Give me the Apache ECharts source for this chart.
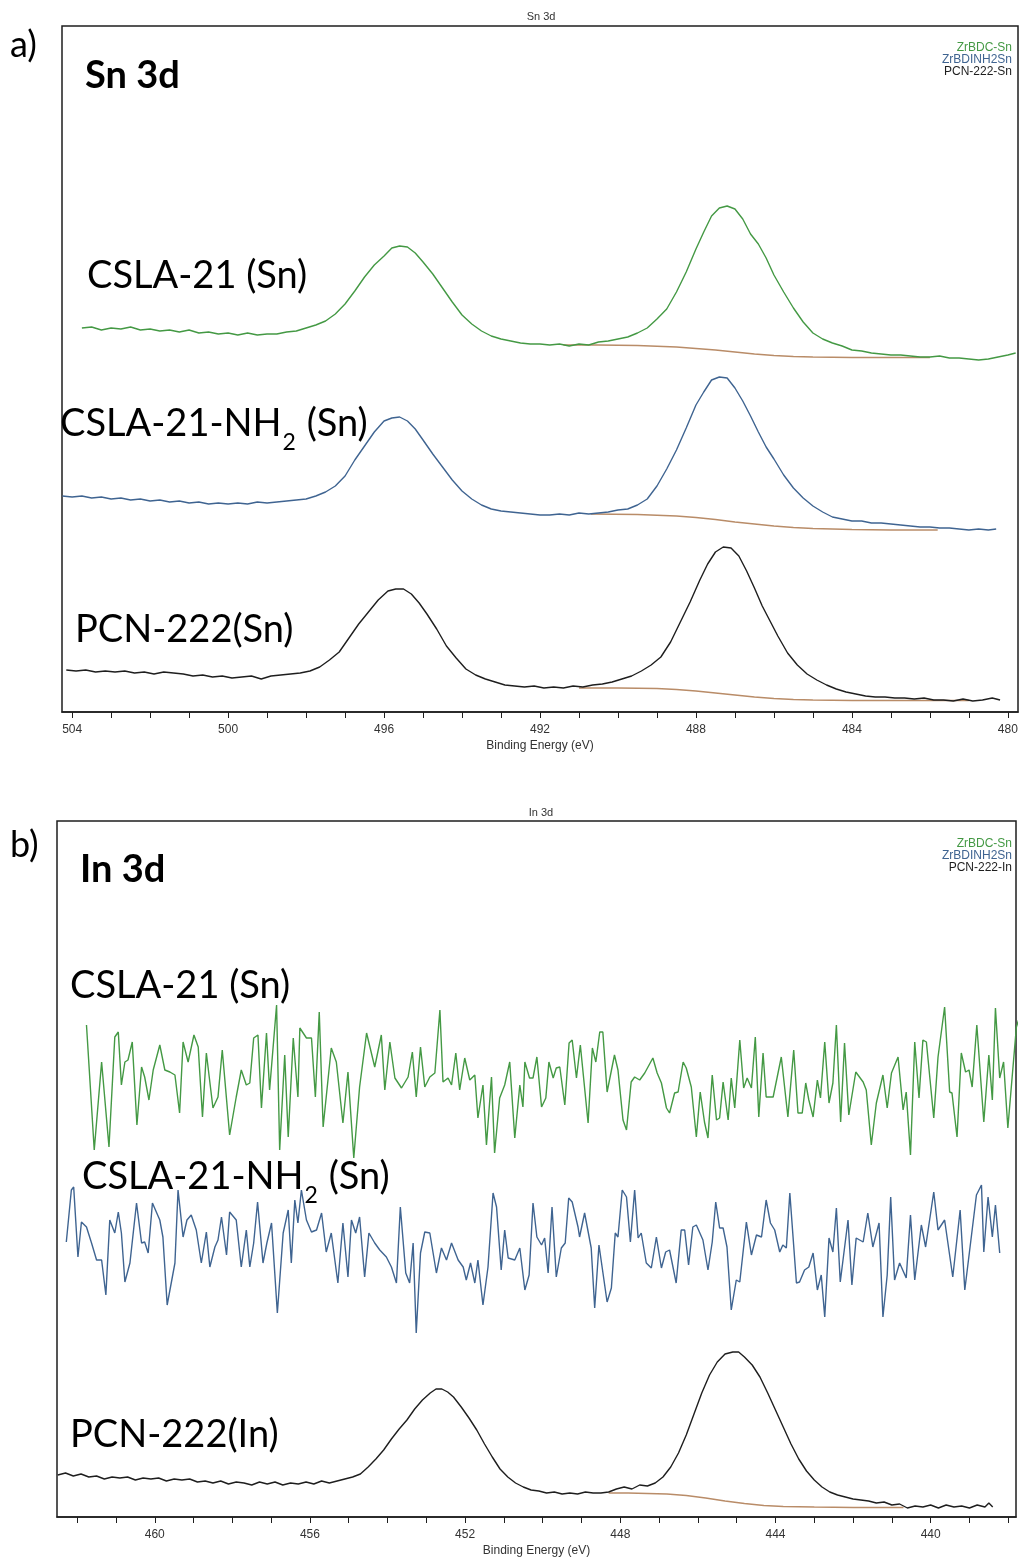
<!DOCTYPE html>
<html>
<head>
<meta charset="utf-8">
<title>Sn 3d / In 3d XPS</title>
<script src="https://cdn.jsdelivr.net/npm/echarts@6/dist/echarts.min.js"></script>
<style>
  html, body { margin: 0; padding: 0; background: #fff; }
  #main { width: 1023px; height: 1560px; }
</style>
</head>
<body>
<div id="main"></div>
<script>
// ---- data: [binding energy (eV), intensity (a.u.)] ----

// panel a) Sn 3d
const snGreen = [[503.75,384],[503.5,385],[503.25,382],[503.0,384],[502.75,383],[502.5,385],[502.25,382],[502.0,383],[501.75,381],[501.5,382],[501.25,380],[501.0,382],[500.75,379],[500.5,380],[500.25,378],[500.0,379],[499.75,377],[499.5,379],[499.25,377],[499.0,378],[498.75,378],[498.5,380],[498.25,381],[498.0,384],[497.75,387],[497.5,391],[497.25,398],[497.0,408],[496.75,421],[496.5,435],[496.25,447],[496.0,456],[495.8,464],[495.6,466],[495.4,465],[495.2,459],[495.0,450],[494.75,438],[494.5,424],[494.25,410],[494.0,397],[493.75,388],[493.5,381],[493.25,376],[493.0,373],[492.75,371],[492.5,369],[492.25,368],[492.0,368],[491.75,367],[491.5,368],[491.25,366],[491.0,368],[490.75,367],[490.5,370],[490.25,371],[490.0,373],[489.75,375],[489.5,379],[489.25,384],[489.0,393],[488.75,403],[488.5,420],[488.25,440],[488.0,463],[487.8,480],[487.6,496],[487.4,504],[487.2,506],[487.0,503],[486.8,493],[486.6,478],[486.4,468],[486.2,454],[486.0,437],[485.75,420],[485.5,404],[485.25,390],[485.0,379],[484.75,373],[484.5,369],[484.25,366],[484.0,362],[483.75,361],[483.5,359],[483.25,358],[483.0,357],[482.75,357],[482.5,356],[482.25,355],[482.0,355],[481.75,356],[481.5,354],[481.25,354],[481.0,353],[480.75,352],[480.5,353],[480.25,355],[480.0,357],[479.8,359]];

const snBlue = [[504.25,216],[504.0,215],[503.75,216],[503.5,214],[503.25,215],[503.0,213],[502.75,214],[502.5,212],[502.25,213],[502.0,211],[501.75,212],[501.5,210],[501.25,211],[501.0,209],[500.75,210],[500.5,208],[500.25,209],[500.0,208],[499.75,209],[499.5,208],[499.25,210],[499.0,209],[498.75,210],[498.5,211],[498.25,212],[498.0,213],[497.75,216],[497.5,220],[497.25,226],[497.0,236],[496.75,252],[496.5,266],[496.25,280],[496.0,291],[495.8,294],[495.6,295],[495.4,291],[495.2,283],[495.0,272],[494.75,258],[494.5,245],[494.25,232],[494.0,221],[493.75,213],[493.5,207],[493.25,203],[493.0,201],[492.75,200],[492.5,199],[492.25,198],[492.0,197],[491.75,197],[491.5,198],[491.25,197],[491.0,199],[490.75,198],[490.5,199],[490.25,200],[490.0,202],[489.75,203],[489.5,207],[489.25,213],[489.0,226],[488.75,243],[488.5,262],[488.25,284],[488.0,307],[487.8,320],[487.6,332],[487.4,335],[487.2,334],[487.0,324],[486.8,311],[486.6,296],[486.4,280],[486.2,265],[486.0,253],[485.75,237],[485.5,224],[485.25,214],[485.0,206],[484.75,200],[484.5,195],[484.25,193],[484.0,191],[483.75,191],[483.5,189],[483.25,189],[483.0,188],[482.75,187],[482.5,186],[482.25,185],[482.0,185],[481.75,184],[481.5,184],[481.25,183],[481.0,182],[480.75,183],[480.5,182],[480.3,183]];

const snBlack = [[504.15,42],[503.9,41],[503.65,42],[503.4,40],[503.15,41],[502.9,40],[502.65,41],[502.4,39],[502.15,40],[501.9,38],[501.65,40],[501.4,39],[501.15,38],[500.9,36],[500.65,37],[500.4,35],[500.15,36],[499.9,34],[499.65,35],[499.4,36],[499.15,33],[498.9,36],[498.65,37],[498.4,38],[498.15,39],[497.9,41],[497.65,45],[497.4,52],[497.15,60],[496.9,74],[496.65,88],[496.4,100],[496.15,112],[495.9,121],[495.7,123],[495.5,123],[495.3,118],[495.1,109],[494.9,98],[494.65,83],[494.4,66],[494.15,54],[493.9,43],[493.65,37],[493.4,33],[493.15,30],[492.9,27],[492.65,26],[492.4,25],[492.15,26],[491.9,24],[491.65,25],[491.4,24],[491.15,26],[490.9,25],[490.65,27],[490.4,28],[490.15,30],[489.9,33],[489.65,36],[489.4,41],[489.15,47],[488.9,55],[488.65,70],[488.4,90],[488.15,110],[487.9,132],[487.7,148],[487.5,160],[487.3,165],[487.1,164],[486.9,156],[486.7,141],[486.5,124],[486.3,106],[486.1,91],[485.9,76],[485.65,59],[485.4,47],[485.15,38],[484.9,32],[484.65,27],[484.4,23],[484.15,20],[483.9,18],[483.65,16],[483.4,15],[483.15,15],[482.9,14],[482.65,14],[482.4,13],[482.15,14],[481.9,12],[481.65,12],[481.4,11],[481.15,13],[480.9,11],[480.65,12],[480.4,14],[480.2,12]];

// Shirley backgrounds under the Sn 3d5/2 peaks
const snGreenBg = [[491.4,367],[490.5,367],[489.5,366.5],[488.5,365],[488.0,363.5],[487.5,362],[487.0,360],[486.5,358],[486.0,356.5],[485.5,355.5],[485.0,355],[484.0,354.5],[483.0,354.5],[482.0,354.5]];
const snBlueBg = [[490.7,198],[489.5,197.5],[488.5,196],[488.0,194.5],[487.5,192.5],[487.0,190],[486.5,188],[486.0,186],[485.5,184.5],[485.0,183.5],[484.0,182.5],[483.0,182],[482.0,182],[481.8,182]];
const snBlackBg = [[491.0,24],[490.0,24],[489.0,23.5],[488.5,22.5],[488.0,21],[487.5,19],[487.0,17],[486.5,15],[486.0,13.5],[485.5,12.5],[485.0,12],[484.0,11.5],[483.0,11.5],[482.0,11.5],[481.0,11.5]];

// panel b) In 3d
const inGreen = [[461.76,492],[461.56,367],[461.37,455],[461.18,370],[461.03,480],[460.94,485],[460.86,432],[460.77,455],[460.69,457],[460.58,475],[460.46,392],[460.34,450],[460.26,440],[460.15,417],[460.04,447],[459.87,472],[459.74,447],[459.61,445],[459.48,442],[459.36,404],[459.27,475],[459.14,455],[458.99,482],[458.88,470],[458.77,400],[458.67,464],[458.50,409],[458.37,420],[458.26,467],[458.07,382],[457.90,420],[457.77,447],[457.64,432],[457.55,434],[457.45,479],[457.34,482],[457.25,409],[457.12,484],[457.04,427],[456.86,512],[456.78,367],[456.65,462],[456.56,380],[456.43,479],[456.31,420],[456.26,489],[456.09,479],[455.96,479],[455.86,420],[455.76,505],[455.66,390],[455.45,469],[455.32,455],[455.15,394],[455.02,445],[454.87,359],[454.72,430],[454.54,484],[454.33,450],[454.16,482],[454.07,427],[453.94,475],[453.81,439],[453.64,429],[453.47,440],[453.36,465],[453.26,420],[453.15,470],[453.04,430],[452.91,440],[452.78,444],[452.65,507],[452.57,435],[452.44,439],[452.35,432],[452.24,464],[452.14,427],[452.01,459],[451.88,437],[451.75,442],[451.67,399],[451.54,432],[451.45,372],[451.32,440],[451.24,364],[451.11,419],[450.98,432],[450.85,455],[450.72,379],[450.59,432],[450.51,410],
  [450.46,455],[450.34,439],[450.25,439],[450.15,460],[450.03,410],[449.92,419],[449.84,455],[449.73,439],[449.65,449],[449.56,450],[449.43,412],[449.32,474],[449.24,477],[449.13,439],[449.03,472],[448.83,394],[448.72,469],[448.63,455],[448.53,485],[448.45,485],[448.34,425],[448.15,462],[448.06,447],[447.93,397],[447.84,387],[447.72,435],[447.63,440],[447.50,437],[447.37,444],[447.16,459],[447.05,444],[446.94,434],[446.81,409],[446.73,404],[446.60,424],[446.51,425],[446.38,455],[446.30,449],[446.17,430],[446.04,380],[445.94,425],[445.83,395],[445.74,379],[445.63,442],[445.52,397],[445.44,399],[445.35,435],[445.22,397],[445.14,439],[445.05,409],[444.92,477],[444.82,429],[444.73,439],[444.62,429],[444.52,480],[444.43,400],[444.32,464],[444.24,420],[444.06,420],[443.85,460],[443.68,400],[443.53,467],[443.42,404],[443.31,404],[443.22,434],[443.14,417],[443.03,400],[442.92,437],[442.84,419],[442.73,475],[442.62,414],[442.52,434],[442.43,492],[442.32,395],[442.22,474],[442.11,402],[441.93,445],[441.74,435],[441.66,427],[441.53,372],[441.40,414],[441.23,442],[441.12,409],[441.01,444],[440.84,460],[440.71,407],[440.63,425],[440.52,362],[440.41,475],[440.30,419],[440.20,477],[440.11,475],[439.92,399],[439.81,460],[439.64,510],[439.51,425],[439.45,424],[439.32,380],[439.21,464],[439.10,445],[439.01,447],[438.93,430],[438.81,492],[438.63,395],[438.50,462],[438.41,417],[438.33,509],[438.22,439],[438.12,455],[438.01,389],[437.79,490],[437.71,500]];

const inBlue = [[462.28,275],[462.15,327],[462.09,330],[461.98,260],[461.89,295],[461.76,290],[461.63,274],[461.50,257],[461.37,257],[461.26,222],[461.16,297],[461.03,284],[460.94,305],[460.86,284],[460.77,235],[460.64,254],[460.47,314],[460.34,274],[460.26,275],[460.17,264],[460.06,314],[459.96,305],[459.87,297],[459.79,280],[459.68,212],[459.48,254],[459.40,327],[459.27,280],[459.17,297],[459.06,302],[458.93,287],[458.80,254],[458.67,285],[458.58,250],[458.45,270],[458.37,277],[458.28,300],[458.15,262],[458.07,305],[457.90,297],[457.77,250],[457.64,287],[457.55,250],[457.45,274],[457.35,315],[457.21,254],[457.11,274],[456.99,294],[456.84,204],[456.69,284],[456.56,307],[456.48,254],[456.39,317],[456.31,294],[456.22,327],[456.09,297],[455.96,285],[455.83,287],[455.70,304],[455.58,265],[455.45,284],[455.28,234],[455.15,294],[455.02,240],[454.93,297],[454.82,284],[454.72,300],[454.59,240],[454.48,284],[454.33,274],[454.20,267],[454.03,260],[453.90,250],[453.77,234],[453.67,310],[453.53,244],[453.43,234],[453.34,274],[453.26,184],[453.15,264],[453.04,285],[452.91,284],[452.74,244],[452.61,269],[452.48,257],[452.35,274],[452.18,257],[452.05,250],[451.97,237],[451.86,254],[451.75,234],[451.67,257],[451.54,212],[451.41,250],[451.28,324],[451.19,310],[451.07,247],[450.98,287],[450.89,259],[450.72,257],[450.59,269],
  [450.46,227],[450.35,242],[450.25,314],[450.15,280],[450.03,272],[449.95,279],[449.86,244],[449.76,310],[449.65,240],[449.52,269],[449.42,274],[449.33,319],[449.24,315],[449.09,290],[449.05,280],[448.92,304],[448.75,269],[448.66,209],[448.55,272],[448.34,215],[448.23,229],[448.13,284],[448.06,280],[447.95,327],[447.84,320],[447.74,275],[447.63,327],[447.54,279],[447.46,284],[447.33,254],[447.20,249],[447.07,280],[446.94,249],[446.83,265],[446.73,267],[446.56,234],[446.43,287],[446.34,287],[446.24,252],[446.13,290],[446.04,292],[445.87,277],[445.74,247],[445.63,275],[445.54,315],[445.44,289],[445.35,289],[445.25,270],[445.14,207],[445.01,237],[444.92,235],[444.75,295],[444.62,262],[444.49,282],[444.36,280],[444.24,317],[444.13,294],[444.02,287],[443.89,265],[443.81,272],[443.72,269],[443.63,324],[443.46,234],[443.38,235],[443.25,247],[443.14,250],[443.03,264],[442.92,227],[442.82,242],[442.73,200],[442.62,279],[442.52,265],[442.43,309],[442.33,235],[442.13,297],[442.03,232],[441.92,279],[441.74,275],[441.62,304],[441.49,270],[441.33,294],[441.23,200],[441.12,242],[441.03,320],[440.93,237],[440.80,254],[440.63,239],[440.52,302],[440.41,237],[440.24,292],[440.13,270],[439.92,325],[439.81,287],[439.64,297],[439.43,240],[439.24,307],[439.12,227],[438.82,322],[438.69,332],[438.63,265],[438.52,320],[438.41,280],[438.33,312],[438.22,264]];

const inBlack = [[462.5,42],[462.3,44],[462.1,41],[461.9,43],[461.7,40],[461.5,41],[461.3,38],[461.1,40],[460.9,39],[460.7,40],[460.5,37],[460.3,39],[460.1,38],[459.9,39],[459.7,36],[459.5,38],[459.3,37],[459.1,38],[458.9,35],[458.7,36],[458.5,34],[458.3,36],[458.1,33],[457.9,35],[457.7,34],[457.5,32],[457.3,35],[457.1,33],[456.9,35],[456.7,32],[456.5,34],[456.3,33],[456.1,35],[455.9,33],[455.7,36],[455.5,34],[455.3,36],[455.1,38],[454.9,40],[454.7,43],[454.5,50],[454.3,58],[454.1,67],[453.9,78],[453.7,88],[453.5,97],[453.3,108],[453.1,117],[452.9,124],[452.75,128],[452.6,128],[452.45,125],[452.3,120],[452.1,110],[451.9,99],[451.7,87],[451.5,73],[451.3,60],[451.1,48],[450.9,40],[450.7,34],[450.5,30],[450.3,27],[450.1,26],[449.9,24],[449.7,25],[449.5,23],[449.3,24],[449.1,23],[448.9,25],[448.7,24],[448.5,24],[448.3,25],[448.1,28],[447.9,30],[447.7,28],[447.5,32],[447.3,31],[447.1,34],[446.9,40],[446.7,50],[446.5,64],[446.3,82],[446.1,103],[445.9,124],[445.7,142],[445.5,155],[445.3,163],[445.1,165],[444.95,165],[444.8,160],[444.6,152],[444.4,140],[444.2,124],[444.0,107],[443.8,90],[443.6,73],[443.4,58],[443.2,46],[443.0,37],[442.8,30],[442.6,25],[442.4,22],[442.2,20],[442.0,18],[441.8,17],[441.6,16],[441.4,14],[441.2,15],[441.0,12],[440.8,13],[440.6,9],[440.4,11],[440.2,10],[440.0,12],[439.8,9],[439.6,12],[439.4,10],[439.2,11],[439.0,9],[438.8,12],[438.6,10],[438.5,14],[438.4,10]];

const inBlackBg = [[448.3,24],[447.8,24],[447.3,23.5],[446.8,23],[446.3,21.5],[445.8,19],[445.3,16],[444.8,13.5],[444.3,11.5],[443.8,10.5],[443.0,10],[442.0,9.5],[440.7,9.5]];

// axis ticks and labels
const snTicks = [480,481,482,483,484,485,486,487,488,489,490,491,492,493,494,495,496,497,498,499,500,501,502,503,504];
const snLabels = [480, 484, 488, 492, 496, 500, 504];
const inTicks = [438,439,440,441,442,443,444,445,446,447,448,449,450,451,452,453,454,455,456,457,458,459,460,461,462];
const inLabels = [440, 444, 448, 452, 456, 460];

// ---- styling ----
const GREEN = '#449944';
const BLUE = '#3f6491';
const BLACK = '#1e1e1e';
const BROWN = '#b98c68';
const NARROW = "'Liberation Sans Narrow', 'Liberation Sans', Arial, sans-serif";
const BIG = "Lato, 'Open Sans', sans-serif";
const LABEL_SIZE = 38;

const chart = echarts.init(document.getElementById('main'));

function xAxisFor(gridIndex, min, max, ticks, labels) {
  return {
    type: 'value', gridIndex: gridIndex, inverse: true, min: min, max: max,
    name: 'Binding Energy (eV)', nameLocation: 'middle', nameGap: 28,
    nameTextStyle: { fontFamily: NARROW, fontSize: 12, color: '#333' },
    axisLine: { show: true, lineStyle: { color: BLACK, width: 1.5 } },
    axisTick: { show: true, length: 6, customValues: ticks, lineStyle: { color: BLACK } },
    axisLabel: { customValues: labels, margin: 12, fontFamily: NARROW, fontSize: 12, color: '#333' },
    splitLine: { show: false }
  };
}

function yAxisFor(gridIndex, max) {
  return { type: 'value', gridIndex: gridIndex, min: 0, max: max, show: false };
}

function line(name, data, color, axis, width) {
  return {
    type: 'line', name: name, data: data, xAxisIndex: axis, yAxisIndex: axis,
    showSymbol: false, symbol: 'none', silent: true,
    lineStyle: { color: color, width: width || 1.4 }, itemStyle: { color: color }
  };
}

function legendFor(top, third) {
  return {
    orient: 'vertical', right: 6, top: top, align: 'right', icon: 'none',
    itemWidth: 0, itemHeight: 10, itemGap: 0, selectedMode: false, padding: 0,
    textStyle: { fontFamily: NARROW, fontSize: 12, lineHeight: 12 },
    data: [
      { name: 'ZrBDC-Sn', textStyle: { color: GREEN } },
      { name: 'ZrBDINH2Sn', textStyle: { color: BLUE } },
      { name: third, textStyle: { color: BLACK } }
    ]
  };
}

// text with a subscript, e.g. CSLA-21-NH2 (Sn)
const measureCtx = document.createElement('canvas').getContext('2d');
function textWidth(str, size) {
  measureCtx.font = size + 'px ' + BIG;
  return measureCtx.measureText(str).width;
}
function bigText(str, x, y, size, weight) {
  return {
    type: 'text', x: x, y: y, z: 100,
    style: { text: str, fontFamily: BIG, fontSize: size, fontWeight: weight || 'normal', fill: '#000', verticalAlign: 'middle' }
  };
}
function subLabel(head, sub, tail, x, y) {
  const w1 = textWidth(head, LABEL_SIZE);
  const w2 = textWidth(sub, 23);
  return [
    bigText(head, x, y, LABEL_SIZE),
    bigText(sub, x + w1 + 1, y + 19, 23),
    bigText(tail, x + w1 + w2 + 2, y, LABEL_SIZE)
  ];
}
function smallTitle(str, y) {
  return {
    type: 'text', x: 541, y: y, z: 100,
    style: { text: str, fontFamily: NARROW, fontSize: 11, fill: '#333', align: 'center', verticalAlign: 'middle' }
  };
}

const option = {
  backgroundColor: '#fff',
  animation: false,
  grid: [
    { left: 62, right: 5, top: 26, height: 686, show: true, borderColor: BLACK, borderWidth: 1.5, backgroundColor: 'transparent' },
    { left: 57, right: 7, top: 821, height: 696, show: true, borderColor: BLACK, borderWidth: 1.5, backgroundColor: 'transparent' }
  ],
  xAxis: [
    xAxisFor(0, 479.74, 504.26, snTicks, snLabels),
    xAxisFor(1, 437.8, 462.52, inTicks, inLabels)
  ],
  yAxis: [yAxisFor(0, 686), yAxisFor(1, 696)],
  legend: [legendFor(42, 'PCN-222-Sn'), legendFor(838, 'PCN-222-In')],
  series: [
    line('bgA1', snGreenBg, BROWN, 0, 1.6),
    line('bgA2', snBlueBg, BROWN, 0, 1.6),
    line('bgA3', snBlackBg, BROWN, 0, 1.6),
    line('ZrBDC-Sn', snGreen, GREEN, 0),
    line('ZrBDINH2Sn', snBlue, BLUE, 0),
    line('PCN-222-Sn', snBlack, BLACK, 0),
    line('bgB', inBlackBg, BROWN, 1, 1.6),
    line('ZrBDC-Sn', inGreen, GREEN, 1),
    line('ZrBDINH2Sn', inBlue, BLUE, 1),
    line('PCN-222-In', inBlack, BLACK, 1)
  ],
  graphic: [
    smallTitle('Sn 3d', 17),
    smallTitle('In 3d', 813),
    bigText('a)', 10, 45, 36),
    bigText('Sn 3d', 85, 76, 38, 'bold'),
    bigText('CSLA-21 (Sn)', 87, 276, LABEL_SIZE),
    ...subLabel('CSLA-21-NH', '2', ' (Sn)', 60, 424),
    bigText('PCN-222(Sn)', 75, 630, LABEL_SIZE),
    bigText('b)', 10, 845, 36),
    bigText('In 3d', 80, 870, 38, 'bold'),
    bigText('CSLA-21 (Sn)', 70, 986, LABEL_SIZE),
    ...subLabel('CSLA-21-NH', '2', ' (Sn)', 82, 1177),
    bigText('PCN-222(In)', 70, 1435, LABEL_SIZE)
  ]
};

chart.setOption(option);
</script>
</body>
</html>
